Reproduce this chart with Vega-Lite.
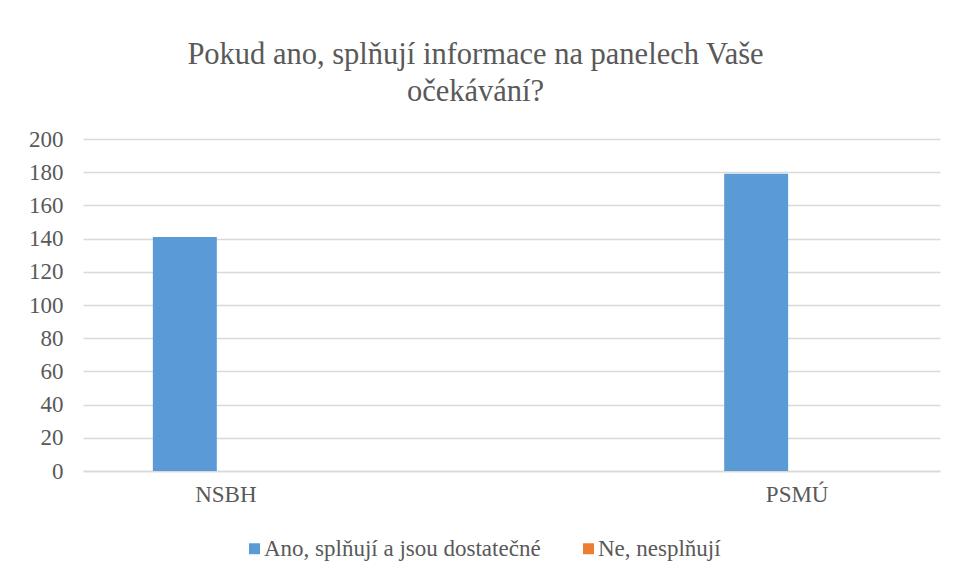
{
  "$schema": "https://vega.github.io/schema/vega-lite/v6.json",
  "width": 857,
  "height": 332,
  "autosize": {"type": "none"},
  "padding": {"left": 83, "top": 139, "right": 16, "bottom": 109},
  "background": "white",
  "config": {
    "view": {"stroke": null},
    "font": "Liberation Serif, Times New Roman, serif"
  },
  "title": {
    "text": ["Pokud ano, splňují informace na panelech Vaše", "očekávání?"],
    "font": "Liberation Serif, Times New Roman, serif",
    "fontSize": 30.5,
    "fontWeight": "normal",
    "color": "#595959",
    "anchor": "middle",
    "frame": "group",
    "dx": -36,
    "lineHeight": 37,
    "offset": 21
  },
  "data": {
    "values": [
      {"kategorie": "NSBH", "odpoved": "Ano, splňují a jsou dostatečné", "pocet": 141},
      {"kategorie": "NSBH", "odpoved": "Ne, nesplňují", "pocet": 0},
      {"kategorie": "PSMÚ", "odpoved": "Ano, splňují a jsou dostatečné", "pocet": 179},
      {"kategorie": "PSMÚ", "odpoved": "Ne, nesplňují", "pocet": 0}
    ]
  },
  "mark": {"type": "bar"},
  "encoding": {
    "x": {
      "field": "kategorie",
      "type": "nominal",
      "sort": null,
      "scale": {"domain": ["NSBH", " ", "PSMÚ"], "paddingInner": 0.489, "paddingOuter": 0.2445},
      "axis": {
        "title": null,
        "labelAngle": 0,
        "labelFont": "Liberation Serif, Times New Roman, serif",
        "labelFontSize": 23,
        "labelColor": "#595959",
        "labelPadding": 12,
        "ticks": false,
        "domainColor": "#d9d9d9",
        "domainWidth": 1.5
      }
    },
    "xOffset": {
      "field": "odpoved",
      "type": "nominal",
      "scale": {"domain": ["Ano, splňují a jsou dostatečné", "Ne, nesplňují"], "paddingInner": 0.22, "paddingOuter": 0}
    },
    "y": {
      "field": "pocet",
      "type": "quantitative",
      "scale": {"domain": [0, 200], "nice": false},
      "axis": {
        "title": null,
        "values": [0, 20, 40, 60, 80, 100, 120, 140, 160, 180, 200],
        "labelFont": "Liberation Serif, Times New Roman, serif",
        "labelFontSize": 23,
        "labelColor": "#595959",
        "labelPadding": 20,
        "ticks": false,
        "domain": false,
        "grid": true,
        "gridColor": "#d9d9d9",
        "gridWidth": 1.5
      }
    },
    "color": {
      "field": "odpoved",
      "type": "nominal",
      "scale": {"domain": ["Ano, splňují a jsou dostatečné", "Ne, nesplňují"], "range": ["#5b9bd5", "#ed7d31"]},
      "legend": {
        "title": null,
        "orient": "none",
        "legendX": 160,
        "legendY": 398,
        "direction": "horizontal",
        "symbolType": "square",
        "symbolSize": 120,
        "symbolStrokeWidth": 0,
        "labelFont": "Liberation Serif, Times New Roman, serif",
        "labelFontSize": 23,
        "labelColor": "#595959",
        "labelOffset": -2,
        "columnPadding": 36,
        "labelLimit": 400
      }
    }
  }
}
